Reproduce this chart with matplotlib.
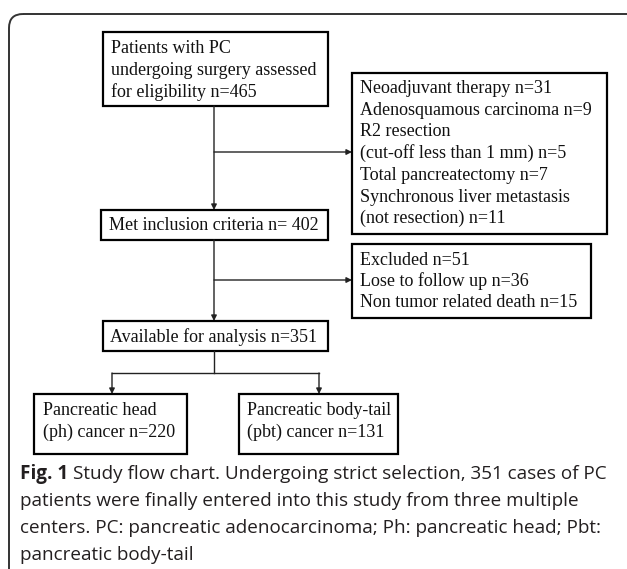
import matplotlib.pyplot as plt
from matplotlib.patches import Rectangle, FancyBboxPatch

# flow chart text
start_lines = ["Patients with PC", "undergoing surgery assessed", "for eligibility n=465"]
excl1_lines = ["Neoadjuvant therapy n=31", "Adenosquamous carcinoma n=9", "R2 resection",
               "(cut-off less than 1 mm) n=5", "Total pancreatectomy n=7",
               "Synchronous liver metastasis", "(not resection) n=11"]
met_lines = ["Met inclusion criteria n= 402"]
excl2_lines = ["Excluded n=51", "Lose to follow up n=36", "Non tumor related death n=15"]
avail_lines = ["Available for analysis n=351"]
head_lines = ["Pancreatic head", "(ph) cancer n=220"]
tail_lines = ["Pancreatic body-tail", "(pbt) cancer n=131"]

caption_bold = "Fig. 1"
caption_lines = ["Study flow chart. Undergoing strict selection, 351 cases of PC",
                 "patients were finally entered into this study from three multiple",
                 "centers. PC: pancreatic adenocarcinoma; Ph: pancreatic head; Pbt:",
                 "pancreatic body-tail"]

# layout in pixels: x0, y0, x1, y1, text x, first baseline, line step
layout = {
    "start": (103, 32, 328, 106, 111, 53, 22, start_lines),
    "excl1": (352, 73, 607, 234, 360, 93, 21.7, excl1_lines),
    "met":   (101, 210, 328, 240, 109, 230, 0, met_lines),
    "excl2": (352, 244, 591, 318, 360, 265, 21, excl2_lines),
    "avail": (103, 321, 328, 351, 110, 342, 0, avail_lines),
    "head":  (34, 394, 187, 454, 43, 415, 22, head_lines),
    "tail":  (239, 394, 398, 454, 247, 415, 22, tail_lines),
}

W, H = 627, 569
fig = plt.figure(figsize=(W / 100, H / 100), dpi=100)
ax = fig.add_axes([0, 0, 1, 1])
ax.set_xlim(0, W)
ax.set_ylim(H, 0)
ax.axis("off")

# outer rounded frame (runs off the right and bottom edges)
frame = FancyBboxPatch((9, 14), 700, 700, boxstyle="round,pad=0,rounding_size=14",
                       fill=False, ec="#333333", lw=1.4)
ax.add_patch(frame)

for name, (x0, y0, x1, y1, tx, by, step, lines) in layout.items():
    ax.add_patch(Rectangle((x0, y0), x1 - x0, y1 - y0, fill=False, ec="black", lw=1.6))
    for i, s in enumerate(lines):
        ax.text(tx, by + i * step, s, fontsize=13, family="Liberation Serif",
                va="baseline", ha="left", color="#111111")

line_kw = dict(color="#222222", lw=1.0)
arrow_kw = dict(arrowstyle="-|>", color="#222222", lw=1.0, mutation_scale=8,
                shrinkA=0, shrinkB=0)

def arrow(x0, y0, x1, y1):
    ax.annotate("", xy=(x1, y1), xytext=(x0, y0), arrowprops=arrow_kw)

cx = 214
# main spine
arrow(cx, 106, cx, 210)
arrow(cx, 152, 352, 152)
arrow(cx, 240, cx, 321)
arrow(cx, 280, 352, 280)
ax.plot([cx, cx], [351, 373], **line_kw)
ax.plot([112, 319], [373, 373], **line_kw)
arrow(112, 373, 112, 394)
arrow(319, 373, 319, 394)

# caption
t = ax.text(20, 479, caption_bold, fontsize=13.6, family="Open Sans", weight="bold",
            va="baseline", ha="left", color="#231f20")
fig.canvas.draw()
bb = t.get_window_extent(fig.canvas.get_renderer())
x_end = ax.transData.inverted().transform((bb.x1, bb.y0))[0]
for i, s in enumerate(caption_lines):
    x = x_end + 5 if i == 0 else 20
    ax.text(x, 479 + i * 27, s, fontsize=13.6, family="Open Sans",
            va="baseline", ha="left", color="#231f20")

fig.savefig("out.png", dpi=100)
